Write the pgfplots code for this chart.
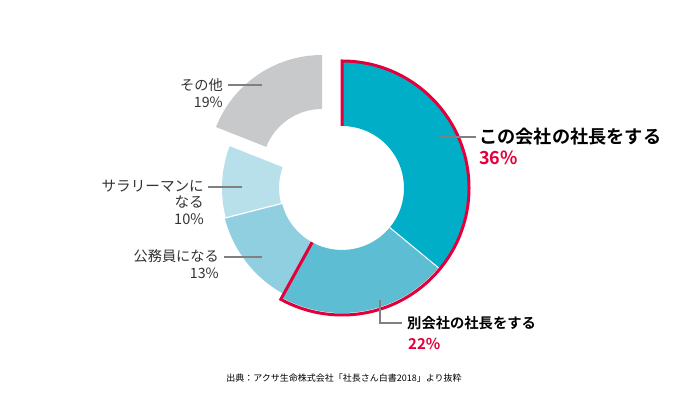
\documentclass[border=0pt]{standalone}
\usepackage{fontspec}
\setmainfont{Noto Sans CJK JP}[BoldFont={Noto Sans CJK JP Bold}]
\usepackage{pgfplots}
\pgfplotsset{compat=1.18}
\definecolor{cA}{HTML}{00AEC8}
\definecolor{cB}{HTML}{5DBDD3}
\definecolor{cC}{HTML}{8FCFE0}
\definecolor{cD}{HTML}{B8E0EA}
\definecolor{cE}{HTML}{C8C9CB}
\definecolor{accent}{HTML}{E3003A}
\definecolor{leader}{HTML}{808080}
\definecolor{txt}{HTML}{333333}
% shares (percent), clockwise from 12 o'clock
\def\vA{36}\def\vB{22}\def\vC{13}\def\vD{10}\def\vE{19}
\pgfmathsetmacro\aA{90}
\pgfmathsetmacro\aB{\aA-3.6*\vA}
\pgfmathsetmacro\aC{\aB-3.6*\vB}
\pgfmathsetmacro\aD{\aC-3.6*\vC}
\pgfmathsetmacro\aE{\aD-3.6*\vD}
\pgfmathsetmacro\aF{\aE-3.6*\vE}
% sector: center, start, end, inner r, outer R, style
\newcommand{\sector}[6]{%
  \fill[#6] ([shift={(#2:#4pt)}]#1) -- ([shift={(#2:#5pt)}]#1)
    arc[start angle=#2, end angle=#3, radius=#5pt]
    -- ([shift={(#3:#4pt)}]#1)
    arc[start angle=#3, end angle=#2, radius=#4pt] -- cycle;}
\begin{document}
\begin{tikzpicture}
\begin{axis}[
  width=690pt, height=398pt, scale only axis,
  xmin=0, xmax=690, ymin=0, ymax=398,
  hide axis, clip=false]
\path (axis cs:0,0) rectangle (axis cs:690,398);
\coordinate (O) at (axis cs:342,210);
\coordinate (Ob) at (axis cs:341,210);
\coordinate (Og) at (axis cs:322,229);
% sectors
\sector{O}{\aA}{\aB}{62}{126}{cA}
\sector{O}{\aB}{\aC}{62}{125}{cB}
\sector{O}{\aC}{\aD}{62}{121}{cC}
\sector{Ob}{\aD}{\aE}{62}{119}{cD}
\sector{Og}{\aE}{\aF}{60}{114}{cE}
% separators
\draw[white, line width=1pt] ([shift={(\aB:62pt)}]O) -- ([shift={(\aB:126pt)}]O);
\draw[white, line width=1.2pt] ([shift={(\aD:60pt)}]O) -- ([shift={(\aD:126pt)}]O);
\draw[white, line width=4pt] ([shift={(\aE:58pt)}]Ob) -- ([shift={(\aE:126pt)}]Ob);
% red outline
\draw[accent, line width=3pt, line join=miter]
  ([shift={(\aA:62pt)}]O) -- ([shift={(\aA:127pt)}]O)
  arc[start angle=\aA, end angle=\aC, radius=127pt]
  -- ([shift={(\aC:62pt)}]O);
% leader lines
\draw[leader, line width=1.1pt] (axis cs:440,261) -- (axis cs:476,261);
\draw[leader, line width=1.1pt] (axis cs:380,98) -- (axis cs:380,75) -- (axis cs:402,75);
\draw[leader, line width=1.1pt] (axis cs:228,313) -- (axis cs:262,313);
\draw[leader, line width=1.1pt] (axis cs:208,211) -- (axis cs:242,211);
\draw[leader, line width=1.1pt] (axis cs:224,141) -- (axis cs:262,141);
% labels
\node[anchor=west, inner sep=0pt, font=\fontsize{18.2}{20}\selectfont\bfseries, text=black] at (axis cs:479,261) {この会社の社長をする};
\node[anchor=west, inner sep=0pt, font=\fontsize{18}{20}\selectfont\bfseries, text=accent] at (axis cs:479,240) {36\%};
\node[anchor=west, inner sep=0pt, font=\fontsize{14.3}{17}\selectfont\bfseries, text=black] at (axis cs:407,75) {別会社の社長をする};
\node[anchor=west, inner sep=0pt, font=\fontsize{15}{17}\selectfont\bfseries, text=accent] at (axis cs:408,54) {22\%};
\node[anchor=east, inner sep=0pt, align=right, font=\fontsize{14.2}{16.5}\selectfont, text=txt] at (axis cs:223,305) {その他\\19\%};
\node[anchor=east, inner sep=0pt, align=right, font=\fontsize{14.6}{16.5}\selectfont, text=txt] at (axis cs:204,196) {サラリーマンに\\なる\\10\%};
\node[anchor=east, inner sep=0pt, align=right, font=\fontsize{14.2}{16.5}\selectfont, text=txt] at (axis cs:219,134) {公務員になる\\13\%};
\node[inner sep=0pt, font=\fontsize{9}{11}\selectfont, text=black] at (axis cs:344,20) {出典：アクサ生命株式会社「社長さん白書2018」より抜粋};
\end{axis}
\end{tikzpicture}
\end{document}
